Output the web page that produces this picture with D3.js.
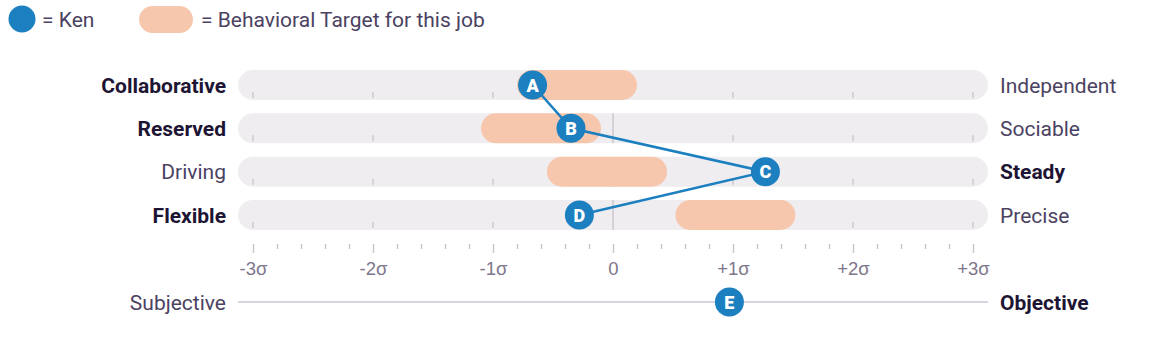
<!DOCTYPE html>
<html>
<head>
<meta charset="utf-8">
<script src="https://cdn.jsdelivr.net/npm/d3@7"></script>
<style>
  body { margin: 0; background: #fff; }
  svg { font-family: Roboto, "Noto Sans", sans-serif; }
</style>
</head>
<body>
<script>
// scales run left trait (negative) to right trait (positive)
var leftTraits = ["Collaborative", "Reserved", "Driving", "Flexible"];
var rightTraits = ["Independent", "Sociable", "Steady", "Precise"];
var pointLetters = ["A", "B", "C", "D"];
var kenScores = [-0.67, -0.35, 1.27, -0.28];
var targetLow = [-0.8, -1.1, -0.55, 0.52];
var targetHigh = [0.2, -0.1, 0.45, 1.52];

var extraLeft = "Subjective", extraRight = "Objective";
var extraLetter = "E", extraScore = 0.97;

var tickLabels = ["-3σ", "-2σ", "-1σ", "0", "+1σ", "+2σ", "+3σ"];

var W = 1168, H = 352;
var blue = "#1b7fc0", peach = "#f7c7ad", track = "#efedf0";
var dark = "#1d1533", mid = "#4b4262", axisGrey = "#7e768c", tickGrey = "#cbc7cf";
var fs = 21;

var svg = d3.select("body").append("svg").attr("width", W).attr("height", H);

var x = d3.scaleLinear().domain([-3, 3]).range([253, 973]);
var y = d3.scalePoint().domain(leftTraits).range([85, 215]);
var barH = 30, cap = 15;

// legend
var leg = svg.append("g");
leg.append("circle").attr("cx", 22).attr("cy", 19).attr("r", 13.5).attr("fill", blue);
leg.append("text").attr("x", 42).attr("y", 26.5).attr("fill", mid).attr("font-size", fs).text("= Ken");
leg.append("rect").attr("x", 139).attr("y", 6).attr("width", 54).attr("height", 27).attr("rx", 13.5).attr("fill", peach);
leg.append("text").attr("x", 201).attr("y", 26.5).attr("fill", mid).attr("font-size", fs).text("= Behavioral Target for this job");

var rows = svg.selectAll(".row").data(leftTraits).enter().append("g").attr("class", "row");

// track
rows.append("rect")
  .attr("x", x(-3) - cap).attr("y", function (d) { return y(d) - barH / 2; })
  .attr("width", x(3) - x(-3) + 2 * cap).attr("height", barH)
  .attr("rx", cap).attr("fill", track);

// small ticks at bottom of each track
rows.each(function (d) {
  var g = d3.select(this);
  [-3, -2, -1, 1, 2, 3].forEach(function (v) {
    g.append("line").attr("x1", x(v)).attr("x2", x(v))
      .attr("y1", y(d) + 7).attr("y2", y(d) + 13)
      .attr("stroke", tickGrey).attr("stroke-width", 1.5);
  });
  g.append("line").attr("x1", x(0)).attr("x2", x(0))
    .attr("y1", y(d) - barH / 2).attr("y2", y(d) + barH / 2)
    .attr("stroke", tickGrey).attr("stroke-width", 1.5);
});

// target bars
rows.append("rect")
  .attr("x", function (d, i) { return x(targetLow[i]); })
  .attr("y", function (d) { return y(d) - barH / 2; })
  .attr("width", function (d, i) { return x(targetHigh[i]) - x(targetLow[i]); })
  .attr("height", barH).attr("rx", cap).attr("fill", peach);

// side labels, bold on the side Ken leans to
rows.append("text")
  .attr("x", 226).attr("y", function (d) { return y(d) + 7.5; })
  .attr("text-anchor", "end").attr("font-size", fs)
  .attr("font-weight", function (d, i) { return kenScores[i] < 0 ? 700 : 400; })
  .attr("fill", function (d, i) { return kenScores[i] < 0 ? dark : mid; })
  .text(function (d) { return d; });
rows.append("text")
  .attr("x", 1000).attr("y", function (d) { return y(d) + 7.5; })
  .attr("font-size", fs)
  .attr("font-weight", function (d, i) { return kenScores[i] > 0 ? 700 : 400; })
  .attr("fill", function (d, i) { return kenScores[i] > 0 ? dark : mid; })
  .text(function (d, i) { return rightTraits[i]; });

// Ken's line and points
var line = d3.line().x(function (d, i) { return x(d); }).y(function (d, i) { return y(leftTraits[i]); });
svg.append("path").attr("d", line(kenScores)).attr("fill", "none")
  .attr("stroke", blue).attr("stroke-width", 2.5);

var pts = svg.selectAll(".pt").data(kenScores).enter().append("g").attr("class", "pt")
  .attr("transform", function (d, i) { return "translate(" + x(d) + "," + y(leftTraits[i]) + ")"; });
pts.append("circle").attr("r", 14.5).attr("fill", blue);
pts.append("text").attr("text-anchor", "middle").attr("y", 6.5).attr("font-size", 18)
  .attr("font-weight", 900).attr("fill", "#fff").text(function (d, i) { return pointLetters[i]; });

// sigma axis
var ticks = d3.range(-15, 16).map(function (d) { return d / 5; });
var axis = d3.axisBottom(x).tickValues(ticks).tickSize(0).tickFormat("");
var gx = svg.append("g").attr("transform", "translate(0,244)").call(axis);
gx.select(".domain").remove();
gx.selectAll(".tick line")
  .attr("y2", function (d) { return Math.abs(d - Math.round(d)) < 1e-6 ? 9 : 5; })
  .attr("stroke", tickGrey).attr("stroke-width", 1.5);
gx.selectAll(".tick").filter(function (d) { return Math.abs(d - Math.round(d)) < 1e-6; })
  .append("text").attr("y", 31).attr("fill", axisGrey).attr("font-size", 18.5)
  .attr("text-anchor", "middle")
  .text(function (d) { return tickLabels[Math.round(d) + 3]; });

// subjective / objective
var yE = 302;
svg.append("line").attr("x1", x(-3) - cap).attr("x2", x(3) + cap).attr("y1", yE).attr("y2", yE)
  .attr("stroke", "#c9c6d6").attr("stroke-width", 1.5);
svg.append("text").attr("x", 226).attr("y", yE + 7.5).attr("text-anchor", "end").attr("font-size", fs)
  .attr("font-weight", extraScore < 0 ? 700 : 400).attr("fill", extraScore < 0 ? dark : mid).text(extraLeft);
svg.append("text").attr("x", 1000).attr("y", yE + 7.5).attr("font-size", fs)
  .attr("font-weight", extraScore > 0 ? 700 : 400).attr("fill", extraScore > 0 ? dark : mid).text(extraRight);
var e = svg.append("g").attr("transform", "translate(" + x(extraScore) + "," + yE + ")");
e.append("circle").attr("r", 14.5).attr("fill", blue);
e.append("text").attr("text-anchor", "middle").attr("y", 6.5).attr("font-size", 18)
  .attr("font-weight", 900).attr("fill", "#fff").text(extraLetter);
</script>
</body>
</html>
